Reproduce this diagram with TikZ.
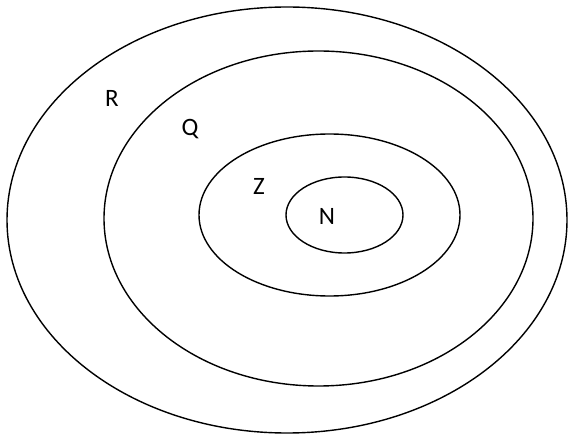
\documentclass[tikz,border=0pt]{standalone}
\usepackage{fontspec}
\setmainfont{Carlito}
\usepackage{tikz}
\usetikzlibrary{shapes.geometric, positioning}

\tikzset{
  setring/.style={ellipse, draw=black, line width=1.4pt, inner sep=0pt},
  setname/.style={inner sep=0pt, font=\fontsize{25}{30}\selectfont}
}

\begin{document}
\begin{tikzpicture}[x=1pt, y=-1pt]
  \useasboundingbox (0,0) rectangle (568,438);
  % nested sets
  \node[setring, minimum width=560pt, minimum height=426pt] (setR) at (287,220) {};
  \node[setring, minimum width=429pt, minimum height=335pt] (setQ) at (318.5,218.5) {};
  \node[setring, minimum width=261pt, minimum height=162pt] (setZ) at (329.5,215) {};
  \node[setring, minimum width=117pt, minimum height=76pt] (setN) at (344.5,215) {};
  % labels
  \node[setname] (labR) at (112,98) {R};
  \node[setname] (labQ) at (190,129) {Q};
  \node[setname] (labZ) at (259,186) {Z};
  \node[setname] (labN) at (327,216) {N};
\end{tikzpicture}
\end{document}
